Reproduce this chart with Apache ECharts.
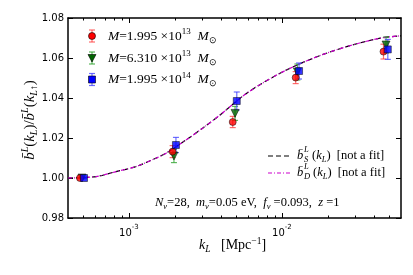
<!DOCTYPE html>
<html><head><meta charset="utf-8">
<script src="https://cdn.jsdelivr.net/npm/echarts@6/dist/echarts.min.js"></script>
<style>html,body{margin:0;padding:0;background:#fff}#c{width:413px;height:275px}</style>
</head><body><div id="c"></div>
<script>
// ---- data ----
const kRed   = [4.79e-4, 1.93e-3, 4.77e-3, 0.0123, 0.0461];
const yRed   = [1.000, 1.0132, 1.0280, 1.0502, 1.0632];
const eRed   = [0.0003, 0.0030, 0.0028, 0.0030, 0.0037];
const kGreen = [4.94e-4, 1.97e-3, 4.94e-3, 0.01262, 0.0479];
const yGreen = [1.000, 1.0110, 1.0323, 1.0530, 1.0665];
const eGreen = [0.0003, 0.0033, 0.0035, 0.0040, 0.0040];
const kBlue  = [5.09e-4, 2.03e-3, 5.07e-3, 0.01294, 0.0492];
const yBlue  = [1.000, 1.0165, 1.0385, 1.0535, 1.0643];
const eBlue  = [0.0003, 0.0038, 0.0045, 0.0040, 0.0050];
const kCurve = [4.0e-4, 6.1e-4, 8.24e-4, 1.11e-3, 1.50e-3, 1.75e-3, 2.36e-3, 3.03e-3, 3.94e-3, 5.89e-3, 9.72e-3, 0.0160, 0.0265, 0.0438, 0.0600];
const bS     = [1.000, 1.0007, 1.0032, 1.0057, 1.0099, 1.0124, 1.0190, 1.0249, 1.0315, 1.0424, 1.0524, 1.0599, 1.0657, 1.0699, 1.0711];
const bD     = [1.000, 1.0007, 1.0032, 1.0057, 1.0099, 1.0124, 1.0190, 1.0249, 1.0315, 1.0424, 1.0524, 1.0599, 1.0657, 1.0699, 1.0711];
const xMajor = [1e-3, 1e-2];
const xMinor = [5e-4,6e-4,7e-4,8e-4,9e-4,2e-3,3e-3,4e-3,5e-3,6e-3,7e-3,8e-3,9e-3,2e-2,3e-2,4e-2,5e-2];
const yTicks = [0.98, 1.00, 1.02, 1.04, 1.06, 1.08];

const SERIF = 'Liberation Serif';
function mkRich(fs, ss){
  return {
    i:{fontFamily:SERIF,fontStyle:'italic',fontSize:fs,color:'#000',lineHeight:fs+4,verticalAlign:'middle'},
    n:{fontFamily:SERIF,fontSize:fs,color:'#000',lineHeight:fs+4,verticalAlign:'middle'},
    sup:{fontFamily:SERIF,fontStyle:'italic',fontSize:ss,color:'#000',lineHeight:ss+1,verticalAlign:'top'},
    supn:{fontFamily:SERIF,fontSize:ss,color:'#000',lineHeight:ss+1,verticalAlign:'top'},
    sub:{fontFamily:SERIF,fontStyle:'italic',fontSize:ss,color:'#000',lineHeight:ss+1,verticalAlign:'bottom'},
    subn:{fontFamily:SERIF,fontSize:ss,color:'#000',lineHeight:ss+1,verticalAlign:'bottom'}
  };
}
const mathRich = mkRich(12.5, 8.5);
const legRich = mkRich(13.5, 9);
const yRich = mkRich(15, 10);

function pairs(xs, ys){ return xs.map((x,i)=>[x, ys[i]]); }
function errs(xs, ys, es){ return xs.map((x,i)=>[x, ys[i]-es[i], ys[i]+es[i]]); }
function errRender(color){
  return function(params, api){
    const x = api.value(0);
    const p1 = api.coord([x, api.value(1)]);
    const p2 = api.coord([x, api.value(2)]);
    const w = 3;
    const st = {stroke: color, lineWidth: 1.2};
    return {type:'group', children:[
      {type:'line', shape:{x1:p1[0],y1:p1[1],x2:p2[0],y2:p2[1]}, style:st},
      {type:'line', shape:{x1:p1[0]-w,y1:p1[1],x2:p1[0]+w,y2:p1[1]}, style:st},
      {type:'line', shape:{x1:p2[0]-w,y1:p2[1],x2:p2[0]+w,y2:p2[1]}, style:st}
    ]};
  };
}
const RED='#ff0000', GREEN='#006400', BLUE='#0000ff';
const RED_E='rgba(255,60,60,0.75)', GREEN_E='rgba(40,160,40,0.75)', BLUE_E='rgba(60,60,255,0.75)';

function xAx(pos, major){
  return {
    type:'log', logBase:10, min:4e-4, max:0.06, position:pos, gridIndex:0,
    axisLine:{show:major, onZero:false, lineStyle:{color:'#000', width:1.5}},
    axisTick:{show:true, inside:true, length: major?5:2.5, customValues: major?xMajor:xMinor, lineStyle:{color:'#000', width:1}},
    axisLabel:{show: major && pos==='bottom', customValues: xMajor, margin:6,
      formatter: v => '{b|10}{s|' + Math.round(Math.log10(v)) + '}',
      rich:{b:{fontFamily:'DejaVu Sans',fontSize:10,color:'#000',lineHeight:14,verticalAlign:'bottom'},
            s:{fontFamily:'DejaVu Sans',fontSize:7,color:'#000',lineHeight:14,verticalAlign:'top'}}},
    splitLine:{show:false}, minorTick:{show:false}
  };
}
function yAx(pos){
  return {
    type:'value', min:0.98, max:1.08, interval:0.02, position:pos,
    axisLine:{show:true, onZero:false, lineStyle:{color:'#000', width:1.5}},
    axisTick:{show:true, inside:true, length:5, lineStyle:{color:'#000', width:1}},
    axisLabel:{show: pos==='left', fontFamily:'DejaVu Sans', fontSize:10, color:'#000', margin:4,
      formatter: v => v.toFixed(2)},
    splitLine:{show:false}
  };
}

const chart = echarts.init(document.getElementById('c'), null, {renderer:'canvas'});
function legendMarker(x, y, sym, color, ecolor){
  const els = [
    {type:'line', shape:{x1:x,y1:y-6,x2:x,y2:y+6}, style:{stroke:ecolor,lineWidth:1.2}},
    {type:'line', shape:{x1:x-3,y1:y-6,x2:x+3,y2:y-6}, style:{stroke:ecolor,lineWidth:1.2}},
    {type:'line', shape:{x1:x-3,y1:y+6,x2:x+3,y2:y+6}, style:{stroke:ecolor,lineWidth:1.2}}
  ];
  const st = {fill:color, stroke:'#000', lineWidth:0.6};
  if (sym==='circle') els.push({type:'circle', shape:{cx:x,cy:y,r:3.5}, style:st});
  else if (sym==='rect') els.push({type:'rect', shape:{x:x-3.5,y:y-3.5,width:7,height:7}, style:st});
  else els.push({type:'polygon', shape:{points:[[x-4,y-3.5],[x+4,y-3.5],[x,y+4]]}, style:st});
  return els;
}
function txt(x, y, text, rich){
  return {type:'text', x:x, y:y, style:{text:text, rich:rich||mathRich, verticalAlign:'middle', align:'left'}};
}
const graphics = [].concat(
  legendMarker(92, 36, 'circle', RED, RED_E),
  legendMarker(92, 58, 'triangle', GREEN, GREEN_E),
  legendMarker(92, 79.5, 'rect', BLUE, BLUE_E),
  [
    txt(108, 36, '{i|M}{n|=1.995 ×10}{supn|13}{n|  }{i|M}{subn|⊙}', legRich),
    txt(108, 58, '{i|M}{n|=6.310 ×10}{supn|13}{n|  }{i|M}{subn|⊙}', legRich),
    txt(108, 79.5, '{i|M}{n|=1.995 ×10}{supn|14}{n|  }{i|M}{subn|⊙}', legRich),
    {type:'line', shape:{x1:268,y1:156,x2:290,y2:156}, style:{stroke:'#000',lineWidth:1.2,lineDash:[5,3]}},
    {type:'line', shape:{x1:268,y1:173,x2:290,y2:173}, style:{stroke:'#cc00cc',lineWidth:1.2,lineDash:[4,2,1,2]}},
    txt(297, 156, '{i|b\u0304}'),
    {type:'text', x:304, y:150, style:{text:'L', fontFamily:SERIF, fontStyle:'italic', fontSize:8.5, verticalAlign:'middle'}},
    {type:'text', x:304, y:160, style:{text:'S', fontFamily:SERIF, fontStyle:'italic', fontSize:8.5, verticalAlign:'middle'}},
    txt(312, 156, '{n|(}{i|k}{sub|L}{n|)  [not a fit]}'),
    txt(297, 173, '{i|b\u0304}'),
    {type:'text', x:304, y:167, style:{text:'L', fontFamily:SERIF, fontStyle:'italic', fontSize:8.5, verticalAlign:'middle'}},
    {type:'text', x:304, y:177, style:{text:'D', fontFamily:SERIF, fontStyle:'italic', fontSize:8.5, verticalAlign:'middle'}},
    txt(313, 173, '{n|(}{i|k}{sub|L}{n|)  [not a fit]}'),
    txt(155, 203, '{i|N}{sub|ν}{n|=28,  }{i|m}{sub|ν}{n|=0.05 eV,  }{i|f}{sub|ν}{n| =0.093,  }{i|z}{n| =1}'),
    txt(199, 245, '{i|k}{sub|L}{n|   [Mpc}{supn|−1}{n|]}', mkRich(14, 9.5)),
    {type:'text', x:30, y:120, rotation:Math.PI/2,
      style:{text:'{i|b\u0304}{sup|L}{n|(}{i|k}{sub|L}{n|)/}{i|b\u0304}{sup|L}{n|(}{i|k}{sub|L↑}{n|)}', rich:yRich, align:'center', verticalAlign:'middle'}}
  ]
);

chart.setOption({
  animation:false,
  backgroundColor:'#fff',
  grid:{left:68, right:12, top:18, bottom:57, containLabel:false},
  xAxis:[xAx('bottom',true), xAx('bottom',false), xAx('top',true), xAx('top',false)],
  yAxis:[yAx('left'), yAx('right')],
  series:[
    {type:'line', data:pairs(kCurve,bS), showSymbol:false, smooth:0.3, lineStyle:{color:'#000',width:1.2,type:[5,3]}, z:2},
    {type:'line', data:pairs(kCurve,bD), showSymbol:false, smooth:0.3, lineStyle:{color:'#cc00cc',width:1.2,type:[4,2,1,2]}, z:2},
    {type:'custom', data:errs(kRed,yRed,eRed), renderItem:errRender(RED_E), z:3},
    {type:'custom', data:errs(kGreen,yGreen,eGreen), renderItem:errRender(GREEN_E), z:3},
    {type:'custom', data:errs(kBlue,yBlue,eBlue), renderItem:errRender(BLUE_E), z:3},
    {type:'scatter', data:pairs(kGreen,yGreen), symbol:'triangle', symbolRotate:180, symbolSize:8, itemStyle:{color:GREEN,borderColor:'#000',borderWidth:0.6}, z:4},
    {type:'scatter', data:pairs(kRed,yRed), symbol:'circle', symbolSize:7, itemStyle:{color:RED,borderColor:'#000',borderWidth:0.6}, z:5},
    {type:'scatter', data:pairs(kBlue,yBlue), symbol:'rect', symbolSize:7, itemStyle:{color:BLUE,borderColor:'#000',borderWidth:0.6}, z:6}
  ],
  graphic: graphics
});
</script></body></html>
